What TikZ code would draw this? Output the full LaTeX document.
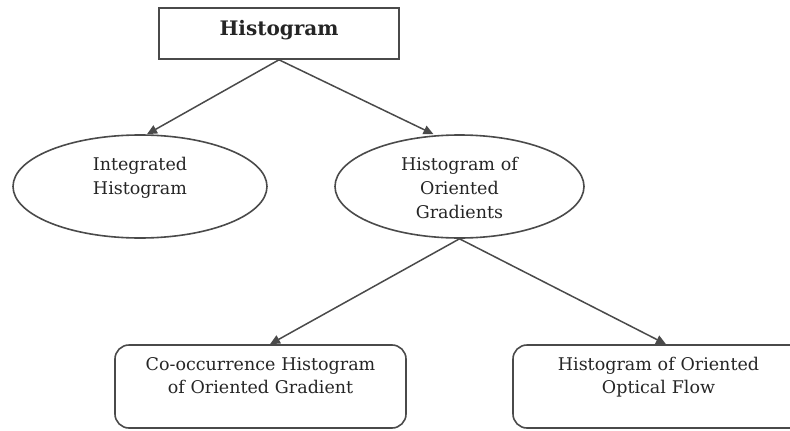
\documentclass[tikz,border=0pt]{standalone}
\usepackage{fontspec}
\setmainfont{DejaVu Serif}
\usetikzlibrary{shapes.geometric,arrows.meta}
\definecolor{linegray}{HTML}{4A4A4A}
\definecolor{textgray}{HTML}{252525}
\tikzset{%
  treenode/.style = {draw=linegray, line width=1.6pt, text=textgray,%
                     align=center, inner sep=0pt},%
  root/.style     = {treenode, rectangle, minimum width=240pt, text width=230pt,%
                     text height=27pt, text depth=24pt,%
                     font=\fontsize{20}{24}\selectfont\bfseries},%
  oval/.style     = {treenode, ellipse, minimum height=103pt, text width=150pt,%
                     text height=18pt, text depth=51pt,%
                     font=\fontsize{17.5}{24}\selectfont},%
  leaf/.style     = {treenode, rectangle, rounded corners=14pt,%
                     minimum width=291pt, text width=280pt,%
                     text height=25pt, text depth=58pt,%
                     font=\fontsize{17.5}{23}\selectfont},%
  link/.style     = {draw=linegray, line width=1.5pt,%
                     -{Triangle[length=10pt,width=9pt]}}%
}
\begin{document}
\begin{tikzpicture}[x=1pt,y=-1pt]
	\useasboundingbox (0,0) rectangle (790,431);
	\node[root] (root) at (279,33.5) {Histogram};
	\node[oval, minimum width=254pt] (integ) at (140,186.5) {Integrated\\Histogram};
	\node[oval, minimum width=249pt] (hog) at (459.5,186.5) {Histogram of\\Oriented\\Gradients};
	\node[leaf] (cohog) at (260.5,386.5) {Co-occurrence Histogram\\of Oriented Gradient};
	\node[leaf] (hoof) at (658.5,386.5) {Histogram of Oriented\\Optical Flow};
	% edges
	\draw[link] (root.south) -- ([xshift=7pt]integ.north);
	\draw[link] (root.south) -- ([xshift=-26pt]hog.north);
	\draw[link] (hog.south) -- ([xshift=9.5pt]cohog.north);
	\draw[link] (hog.south) -- ([xshift=7.5pt]hoof.north);
\end{tikzpicture}
\end{document}
